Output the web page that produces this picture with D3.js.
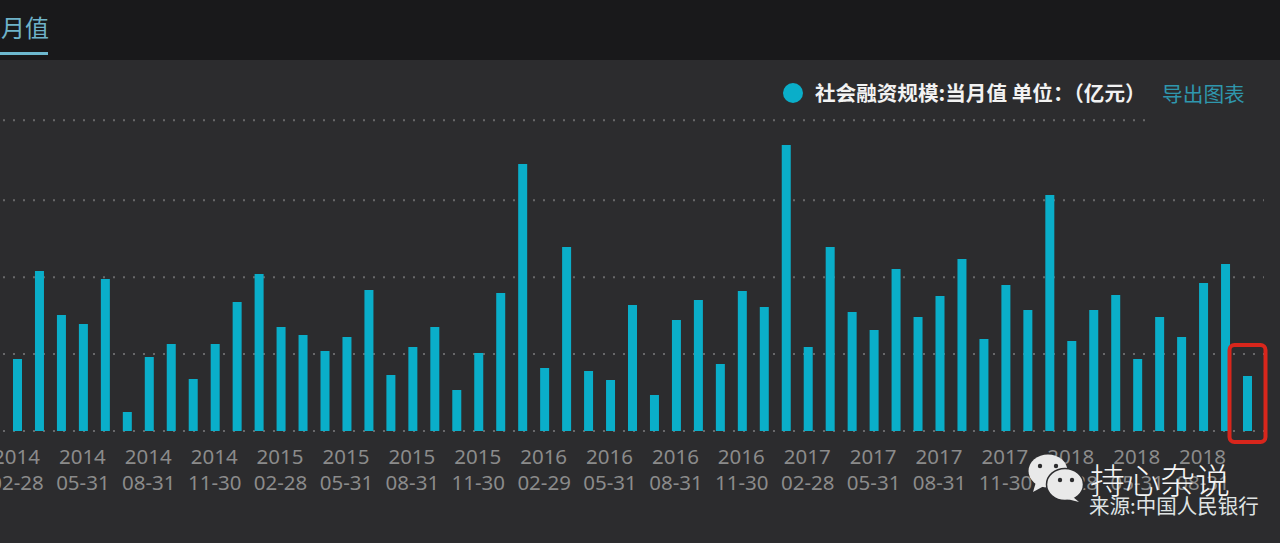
<!DOCTYPE html>
<html><head><meta charset="utf-8">
<script src="https://cdnjs.cloudflare.com/ajax/libs/d3/7.8.5/d3.min.js"></script>
<style>
html,body{margin:0;padding:0;background:#2c2c2e;overflow:hidden}
svg{display:block}
text{font-family:"Noto Sans CJK SC","Noto Sans",sans-serif}
.tick text{font-family:"Noto Sans","Noto Sans CJK SC",sans-serif}
</style></head><body>
<svg id="c" width="1280" height="543"></svg>
<script>
const dates=["2014-02-28","2014-03-31","2014-04-30","2014-05-31","2014-06-30","2014-07-31","2014-08-31","2014-09-30","2014-10-31","2014-11-30","2014-12-31","2015-01-31",
"2015-02-28","2015-03-31","2015-04-30","2015-05-31","2015-06-30","2015-07-31","2015-08-31","2015-09-30","2015-10-31","2015-11-30","2015-12-31","2016-01-31",
"2016-02-29","2016-03-31","2016-04-30","2016-05-31","2016-06-30","2016-07-31","2016-08-31","2016-09-30","2016-10-31","2016-11-30","2016-12-31","2017-01-31",
"2017-02-28","2017-03-31","2017-04-30","2017-05-31","2017-06-30","2017-07-31","2017-08-31","2017-09-30","2017-10-31","2017-11-30","2017-12-31","2018-01-31",
"2018-02-28","2018-03-31","2018-04-30","2018-05-31","2018-06-30","2018-07-31","2018-08-31","2018-09-30","2018-10-31"];
const values=[9360,20800,15080,13910,19760,2470,9620,11310,6760,11310,16770,20410,
13520,12480,10400,12220,18330,7280,10920,13520,5330,10140,17940,34710,
8190,23920,7800,6630,16380,4680,14430,17030,8710,18200,16120,37180,
10920,23920,15470,13130,21060,14820,17550,22360,11960,18980,15730,30680,
11700,15730,17680,9360,14820,12220,19240,21710,7150];
const gridValues=[0,10000,20000,30000,40390];
const tickDates=dates.filter((d,i)=>i%3===0&&i<55);
const seriesName="社会融资规模:当月值 单位：（亿元）";
const exportLabel="导出图表";
const tabLabel="当月值";
const wmTitle="持心杂说";
const wmSource="来源:中国人民银行";
const highlightDate="2018-10-31";

const svg=d3.select("#c");
svg.append("rect").attr("width",1280).attr("height",543).attr("fill","#2c2c2e");
svg.append("rect").attr("width",1280).attr("height",60).attr("fill","#19191b");
svg.append("text").attr("x",49).attr("y",37).attr("text-anchor","end").attr("font-size",24).attr("fill","#6fb3c9").text(tabLabel);
svg.append("rect").attr("x",0).attr("y",52).attr("width",48).attr("height",3).attr("fill","#6db8cf");

const x=d3.scalePoint().domain(dates).range([17.5,1247.5]);
const y=d3.scaleLinear().domain([0,40000]).range([431,123.3]);

// grid
svg.append("g").selectAll("line").data(gridValues).join("line")
  .attr("x1",3).attr("x2",v=>v>35000?1148:1264)
  .attr("y1",v=>y(v)).attr("y2",v=>y(v))
  .attr("stroke","#68686a").attr("stroke-width",2).attr("stroke-dasharray","2 8");

// bars
const barW=9;
svg.append("g").selectAll("rect").data(values).join("rect")
  .attr("x",(v,i)=>x(dates[i])-barW/2).attr("width",barW)
  .attr("y",v=>y(v)).attr("height",v=>y(0)-y(v))
  .attr("fill","#0aaec9");

// axis
const axis=d3.axisBottom(x).tickValues(tickDates).tickSize(0).tickPadding(0).tickFormat("");
const ax=svg.append("g").attr("transform","translate(0,431)").call(axis);
ax.select(".domain").remove();
ax.selectAll(".tick text").each(function(d){
  const t=d3.select(this).attr("y",0).attr("dy",null).attr("font-size",20.5).attr("fill","#8b8b8b").attr("text-anchor","middle");
  t.append("tspan").attr("x",-1.5).attr("y",33).text(d.slice(0,4));
  t.append("tspan").attr("x",-1).attr("y",59).text(d.slice(5));
});

// legend
svg.append("circle").attr("cx",793).attr("cy",93).attr("r",10).attr("fill","#0aaec9");
svg.append("text").attr("x",815).attr("y",101).attr("font-size",20.6).attr("font-weight",700).attr("fill","#f2f2f2").text(seriesName);
svg.append("text").attr("x",1162).attr("y",102).attr("font-size",20.7).attr("fill","#2f97ad").text(exportLabel);

// highlight
const hx=x(highlightDate);
svg.append("rect").attr("x",hx-18).attr("y",345).attr("width",36).attr("height",97).attr("rx",5)
  .attr("fill","none").attr("stroke","#d8261c").attr("stroke-width",4);

// watermark
const wm=svg.append("g");
wm.append("ellipse").attr("cx",1048).attr("cy",471).attr("rx",19.5).attr("ry",16.5).attr("fill","#e9e9e9");
wm.append("path").attr("d","M1036 482 L1033 492 L1044 486 Z").attr("fill","#e9e9e9");
wm.append("ellipse").attr("cx",1065).attr("cy",484.5).attr("rx",18.5).attr("ry",16).attr("fill","#e9e9e9").attr("stroke","#2c2c2e").attr("stroke-width",1.5);
wm.append("path").attr("d","M1073 497 L1079 502 L1067 499 Z").attr("fill","#e9e9e9");
[[1040,466],[1056,466],[1060,480],[1072,480]].forEach(p=>wm.append("circle").attr("cx",p[0]).attr("cy",p[1]).attr("r",2.2).attr("fill","#2c2c2e"));
wm.append("text").attr("x",1090).attr("y",494).attr("font-size",35).attr("font-weight",300).attr("fill","#f4f4f4").text(wmTitle);
wm.append("text").attr("x",1089).attr("y",514).attr("font-size",20.5).attr("fill","#dfe3e3").text(wmSource);
</script></body></html>
